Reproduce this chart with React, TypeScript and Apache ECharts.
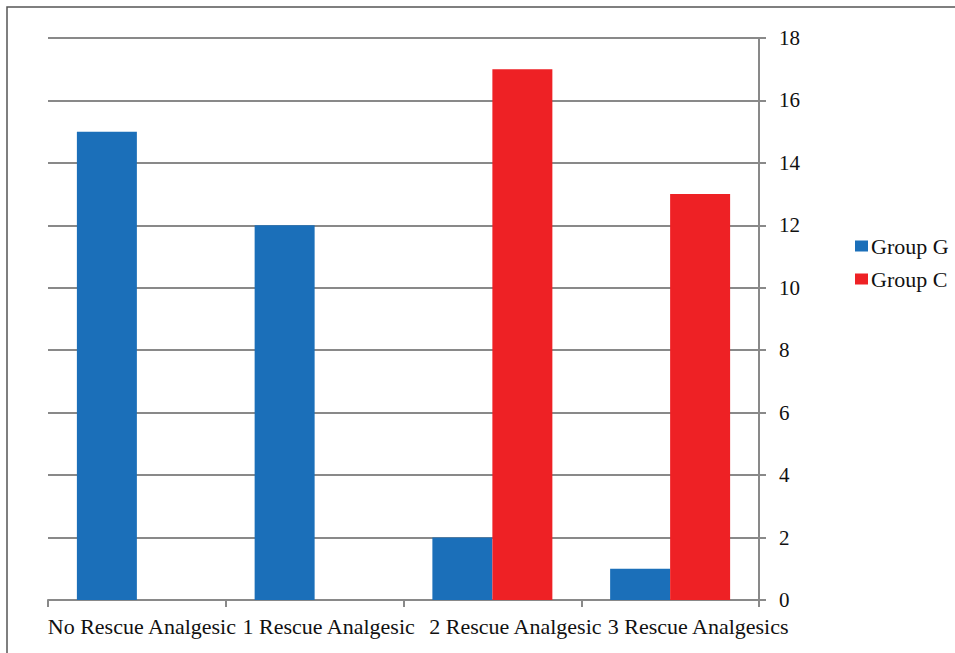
import React, { useEffect, useRef } from "react";
import * as echarts from "echarts";

const categories = ["No Rescue Analgesic", "1 Rescue Analgesic", "2 Rescue Analgesic", "3 Rescue Analgesics"];
const groupG = [15, 12, 2, 1];
const groupC = [0, 0, 17, 13];
const seriesNames = ["Group G", "Group C"];

const FONT = "Liberation Serif";
const GRAY = "#898989";

export default function App() {
  const ref = useRef<HTMLDivElement>(null);
  useEffect(() => {
    document.body.style.margin = "0";
    const chart = echarts.init(ref.current!, null, { renderer: "svg" });
    const pads = [10, 28, 46, 56];
    const rich: any = {};
    pads.forEach((p, i) => {
      rich["l" + i] = { fontFamily: FONT, fontSize: 22, color: "#111", padding: [0, 0, 0, p] };
    });
    chart.setOption({
      animation: false,
      backgroundColor: "#fff",
      textStyle: { fontFamily: FONT },
      graphic: [
        {
          type: "rect",
          shape: { x: 7, y: 7, width: 960, height: 680 },
          style: { fill: "none", stroke: "#555", lineWidth: 1.5 },
          silent: true,
        },
      ],
      legend: {
        orient: "vertical",
        left: 855,
        top: 235,
        padding: 0,
        itemWidth: 13,
        itemHeight: 11,
        itemGap: 11,
        icon: "rect",
        data: seriesNames,
        textStyle: { fontFamily: FONT, fontSize: 22, color: "#111", padding: [0, 0, 0, -2] },
      },
      grid: { left: 48, right: 196, top: 38, bottom: 53, containLabel: false },
      xAxis: {
        type: "category",
        data: categories,
        axisLine: { lineStyle: { color: GRAY, width: 2 } },
        axisTick: { show: true, length: 7, lineStyle: { color: GRAY, width: 2 } },
        axisLabel: {
          interval: 0,
          margin: 15,
          formatter: (v: string) => {
            const i = categories.indexOf(v);
            return "{l" + i + "|" + v + "}";
          },
          rich,
        },
      },
      yAxis: {
        type: "value",
        position: "right",
        min: 0,
        max: 18,
        interval: 2,
        axisLine: { show: true, lineStyle: { color: GRAY, width: 2 } },
        axisTick: { show: true, length: 7, lineStyle: { color: GRAY, width: 2 } },
        splitLine: { show: true, lineStyle: { color: GRAY, width: 2 } },
        axisLabel: { margin: 20, fontFamily: FONT, fontSize: 21, color: "#111" },
      },
      series: [
        {
          name: seriesNames[0],
          type: "bar",
          data: groupG,
          barGap: "0%",
          barCategoryGap: "32.5%",
          itemStyle: { color: "#1b6fb9" },
        },
        {
          name: seriesNames[1],
          type: "bar",
          data: groupC,
          barGap: "0%",
          barCategoryGap: "32.5%",
          itemStyle: { color: "#ee2125" },
        },
      ],
    });
    return () => chart.dispose();
  }, []);
  return <div ref={ref} style={{ width: 955, height: 653 }} />;
}
